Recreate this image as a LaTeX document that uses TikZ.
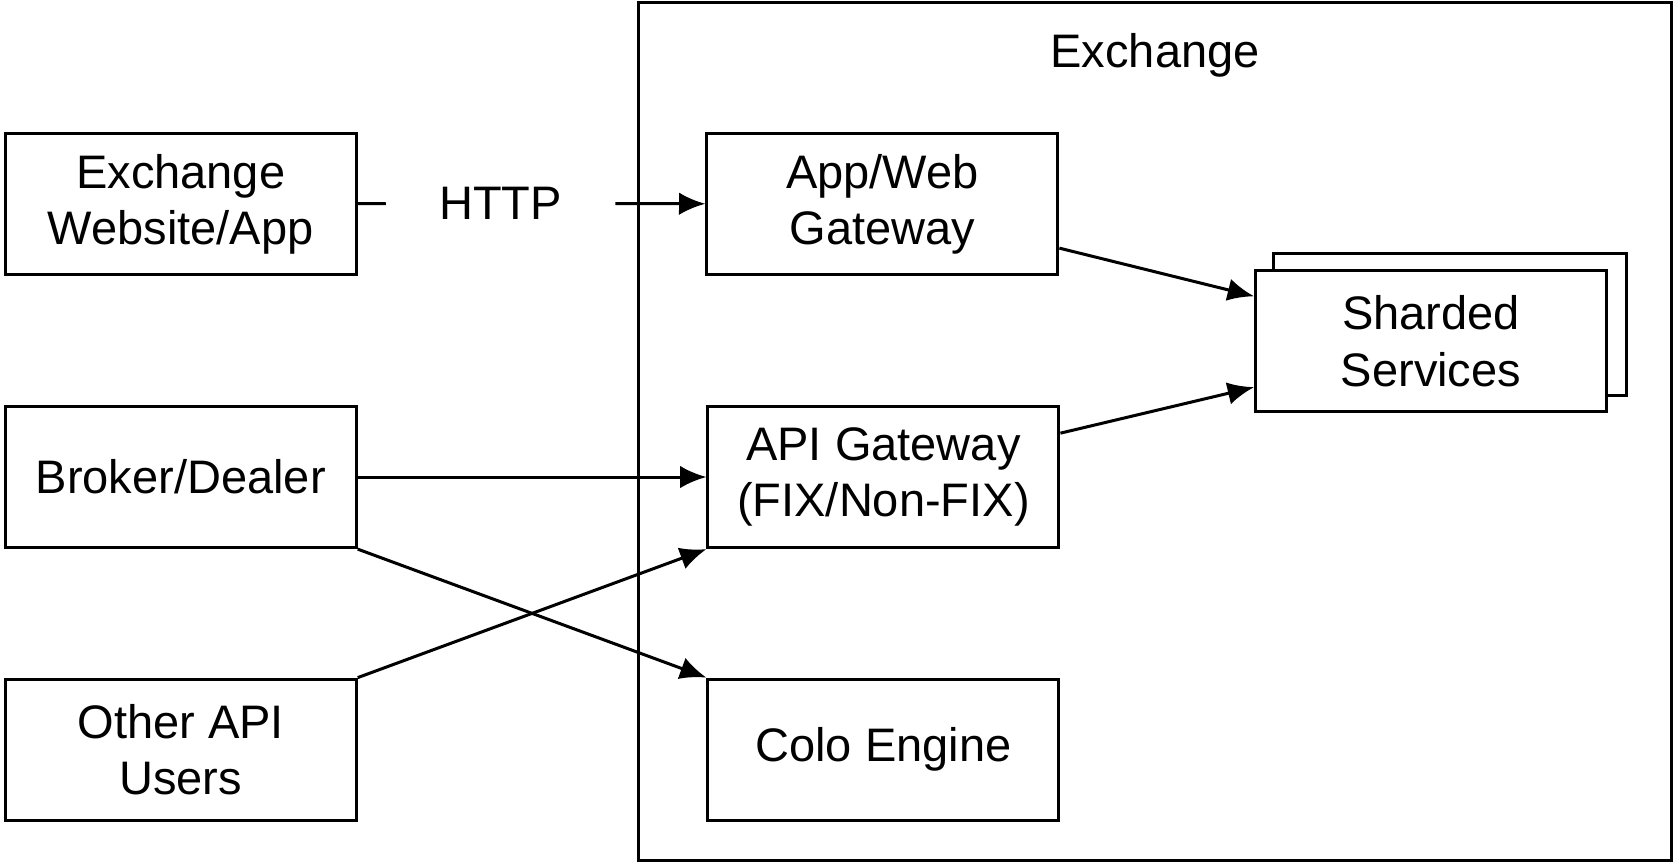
\documentclass[tikz,border=0pt]{standalone}
\usepackage{fontspec}
\setmainfont{Liberation Sans}
\usetikzlibrary{arrows.meta,calc}
\begin{document}
\begin{tikzpicture}[x=0.01cm,y=-0.01cm,
  box/.style={draw,thick,minimum width=3.28cm,minimum height=1.32cm,align=center,
    font=\fontsize{12.5}{15}\selectfont},
  arr/.style={thick,-{Latex[length=7pt,width=6pt]}}]
\useasboundingbox (0,0) rectangle (1568,808);
\draw[thick] (597,2) rectangle (1563,805);
\node[font=\fontsize{12.5}{15}\selectfont] (exlabel) at (1080,52) {Exchange};

\node[box] (web) at (169,191) {Exchange\\Website/App};
\node[box] (bd) at (169,446) {Broker/Dealer};
\node[box] (oth) at (169,701) {Other API\\Users};

\node[box] (aw) at (825,191) {App/Web\\Gateway};
\node[box] (api) at (826,446) {API Gateway\\(FIX/Non-FIX)};
\node[box] (colo) at (826,701) {Colo Engine};

\draw[thick,fill=white] (1191,237) rectangle (1521,370);
\node[box,fill=white] (shard) at (1338,319) {Sharded\\Services};

\node[font=\fontsize{12.5}{15}\selectfont,inner sep=14pt] (http) at (468,190) {HTTP};
\draw[thick] (web) -- (http);
\draw[arr] (http) -- (aw);

\draw[arr] ($(aw.east)+(0,41)$) -- ($(shard.west)+(0,-42)$);
\draw[arr] ($(api.east)+(0,-41)$) -- ($(shard.west)+(0,43)$);
\draw[arr] (bd) -- (api);
\draw[arr] (bd.south east) -- (colo.north west);
\draw[arr] (oth.north east) -- (api.south west);
\end{tikzpicture}
\end{document}
